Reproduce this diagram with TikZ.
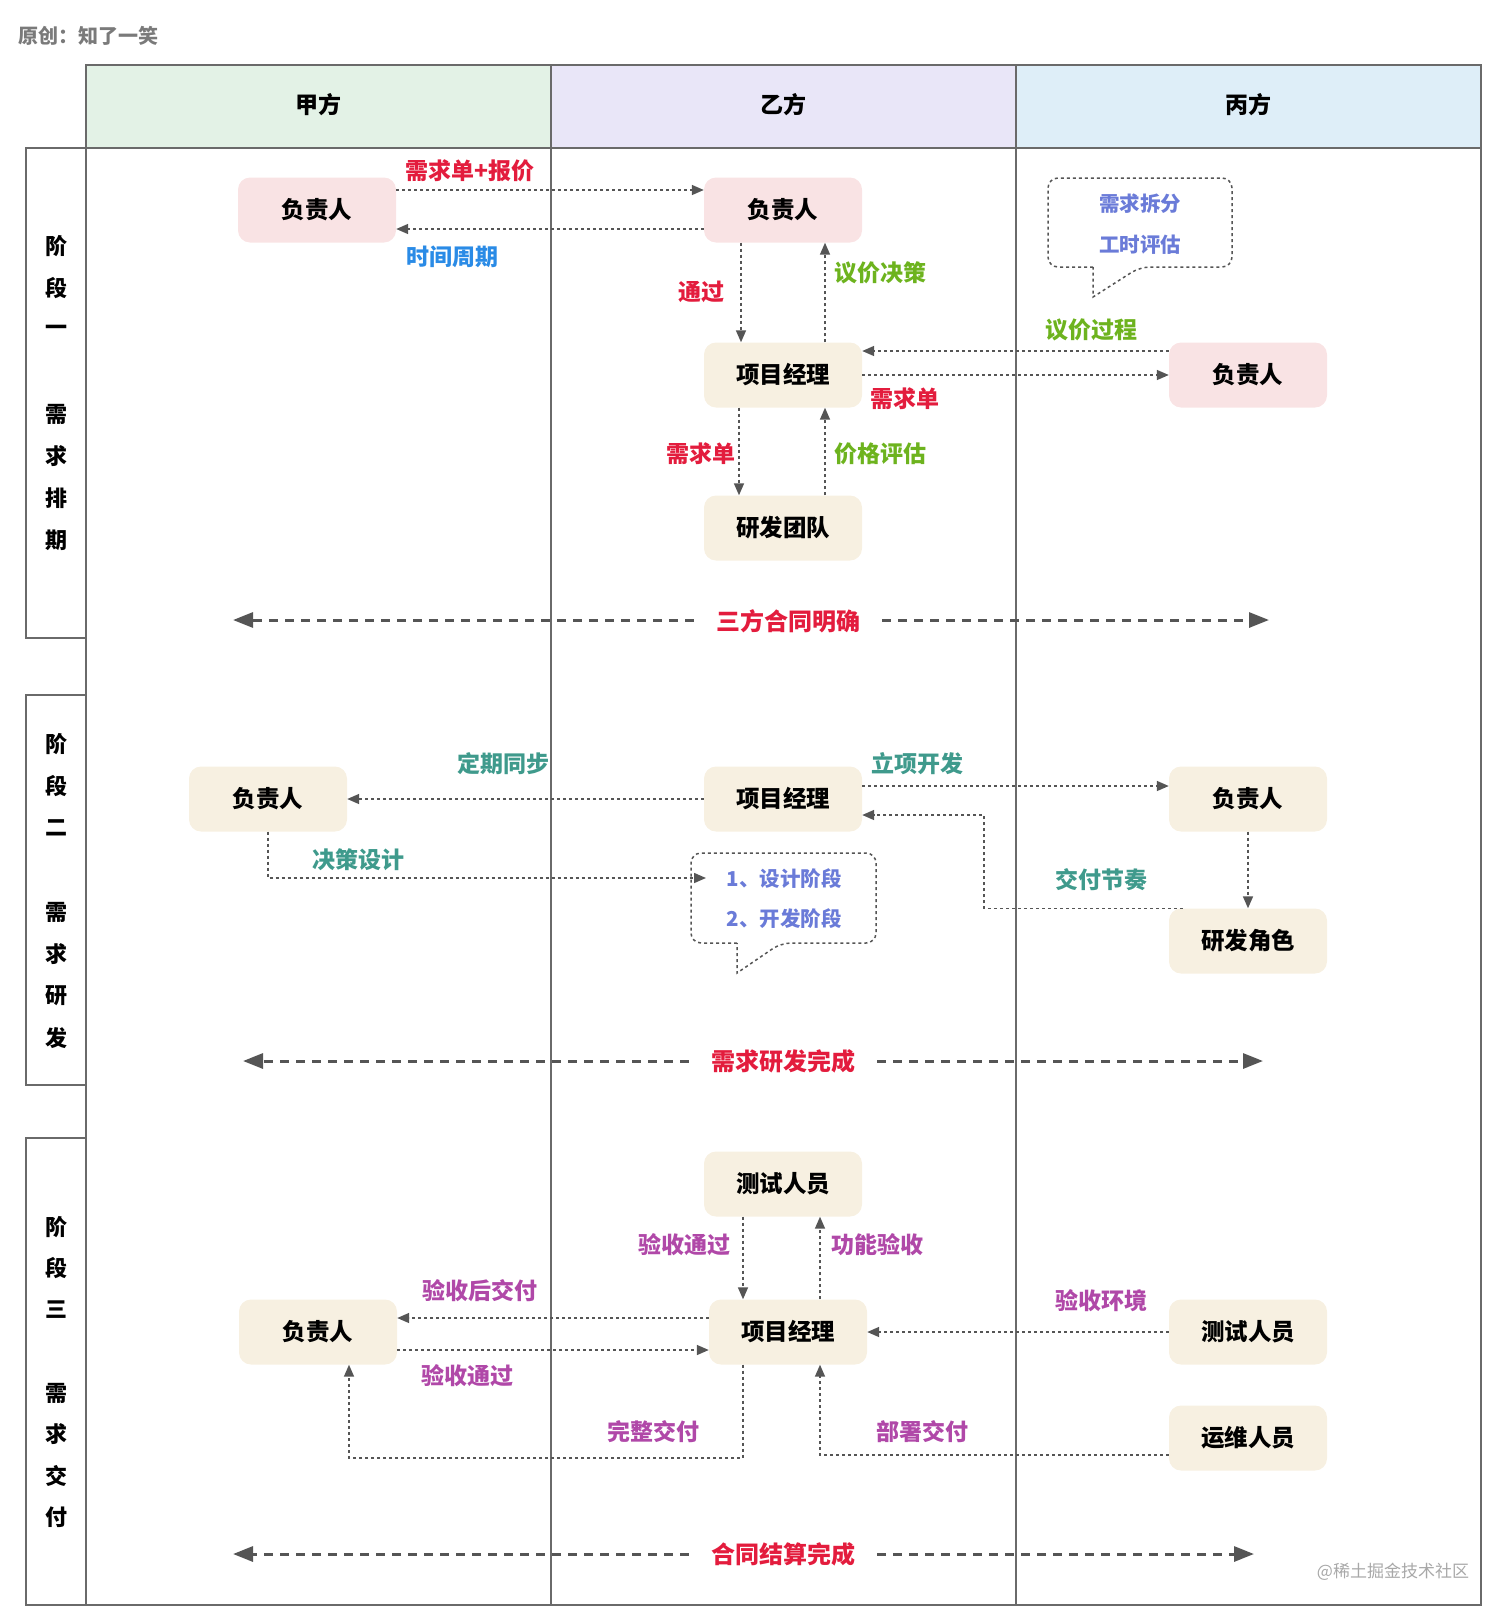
\documentclass[tikz,border=0pt]{standalone}
\usepackage{fontspec}
\setmainfont{Noto Sans CJK SC}
\usetikzlibrary{arrows.meta}

\definecolor{framegray}{HTML}{6A6A6A}
\definecolor{arrowgray}{HTML}{555555}
\definecolor{headgreen}{HTML}{E3F2E6}
\definecolor{headpurple}{HTML}{E9E6F8}
\definecolor{headblue}{HTML}{DEEEF8}
\definecolor{leadpink}{HTML}{F9E3E4}
\definecolor{staffcream}{HTML}{F7F0E1}
\definecolor{tagred}{HTML}{E31C3D}
\definecolor{tagblue}{HTML}{2A8BE6}
\definecolor{taggreen}{HTML}{6DB31E}
\definecolor{tagteal}{HTML}{3F9A8C}
\definecolor{tagpink}{HTML}{B048A8}
\definecolor{noteblue}{HTML}{6A7BD8}
\definecolor{titlegray}{HTML}{7A7A7A}
\definecolor{markgray}{HTML}{A8A8A8}

\begin{document}
\begin{tikzpicture}[
    x=1pt, y=-1pt,
    frame/.style={draw=framegray, line width=1.5pt},
    actor/.style={rounded corners=12pt, minimum width=158pt, minimum height=65pt, inner sep=0pt, font={\fontsize{23.5}{28}\selectfont\bfseries}},
    lead/.style={actor, fill=leadpink},
    staff/.style={actor, fill=staffcream},
    flow/.style={-{Triangle[length=12pt, width=10pt]}, draw=arrowgray, line width=1.6pt, dash pattern=on 3pt off 3pt},
    tag/.style={font={\fontsize{23}{27}\selectfont\bfseries}, inner sep=0pt},
    milestone/.style={-{Triangle[length=20pt, width=15pt]}, draw=arrowgray, line width=3pt, dash pattern=on 9pt off 7pt},
    mslabel/.style={font={\fontsize{24}{28}\selectfont\bfseries}, text=tagred, inner xsep=22pt},
    note/.style={draw=arrowgray, line width=1.5pt, dash pattern=on 3pt off 3pt},
    notetext/.style={font={\fontsize{20.5}{24}\selectfont\bfseries}, text=noteblue},
    lanehead/.style={font={\fontsize{23}{27}\selectfont\bfseries}},
    stagechar/.style={font={\fontsize{22}{26}\selectfont\bfseries}}
]
    \useasboundingbox (0,0) rectangle (1512,1620);

    % lanes
    \fill[headgreen] (86,65) rectangle (551,148);
    \fill[headpurple] (551,65) rectangle (1016,148);
    \fill[headblue] (1016,65) rectangle (1481,148);
    \draw[frame] (86,65) rectangle (1481,1605);
    \draw[frame] (86,148) -- (1481,148);
    \draw[frame] (551,65) -- (551,1605);
    \draw[frame] (1016,65) -- (1016,1605);
    \draw[frame] (26,148) rectangle (86,638);
    \draw[frame] (26,695) rectangle (86,1085);
    \draw[frame] (26,1138) rectangle (86,1605);

    \node[font={\fontsize{20}{24}\selectfont\bfseries}, text=titlegray, anchor=west, inner sep=0pt] (title) at (18,36) {原创：知了一笑};
    \node[lanehead] (h1) at (318,105) {甲方};
    \node[lanehead] (h2) at (783,105) {乙方};
    \node[lanehead] (h3) at (1248,105) {丙方};

    \foreach \c [count=\i] in {阶,段,一,,需,求,排,期}
        \node[stagechar] (sa\i) at (56, 246+42*\i-42) {\c};
    \foreach \c [count=\i] in {阶,段,二,,需,求,研,发}
        \node[stagechar] (sb\i) at (56, 744+42*\i-42) {\c};
    \foreach \c [count=\i] in {阶,段,三,,需,求,交,付}
        \node[stagechar] (sc\i) at (56, 1227+41.5*\i-41.5) {\c};

    % stage one
    \node[lead] (a1) at (317,210) {负责人};
    \node[lead] (b1) at (783,210) {负责人};
    \node[staff] (pm1) at (783,375) {项目经理};
    \node[staff] (rd1) at (783,528) {研发团队};
    \node[lead] (c1) at (1248,375) {负责人};

    \draw[note] (1093,267) [rounded corners=10pt] -- (1048,267) -- (1048,178) -- (1232,178) -- (1232,267) -- (1140,267) [sharp corners] -- (1093,297) -- cycle;
    \node[notetext] (n1a) at (1140,204) {需求拆分};
    \node[notetext] (n1b) at (1140,245) {工时评估};

    \draw[flow] ([yshift=20pt]a1.east) -- ([yshift=20pt]b1.west);
    \draw[flow] ([yshift=-19pt]b1.west) -- ([yshift=-19pt]a1.east);
    \draw[flow] ([xshift=-42pt]b1.south) -- ([xshift=-42pt]pm1.north);
    \draw[flow] ([xshift=42pt]pm1.north) -- ([xshift=42pt]b1.south);
    \draw[flow] ([yshift=24pt]c1.west) -- ([yshift=24pt]pm1.east);
    \draw[flow] (pm1.east) -- (c1.west);
    \draw[flow] ([xshift=-44pt]pm1.south) -- ([xshift=-44pt]rd1.north);
    \draw[flow] ([xshift=42pt]rd1.north) -- ([xshift=42pt]pm1.south);

    \node[tag, text=tagred] (l1) at (470,171) {需求单+报价};
    \node[tag, text=tagblue] (l2) at (452,257) {时间周期};
    \node[tag, text=tagred] (l3) at (701,292) {通过};
    \node[tag, text=taggreen] (l4) at (880,273) {议价决策};
    \node[tag, text=taggreen] (l5) at (1091,330) {议价过程};
    \node[tag, text=tagred] (l6) at (905,399) {需求单};
    \node[tag, text=tagred] (l7) at (701,454) {需求单};
    \node[tag, text=taggreen] (l8) at (880,454) {价格评估};

    \node[mslabel] (ms1) at (788,621) {三方合同明确};
    \coordinate (ms1l) at (233,620);
    \coordinate (ms1r) at (1269,620);
    \draw[milestone] (ms1.west |- ms1l) -- (ms1l);
    \draw[milestone] (ms1.east |- ms1r) -- (ms1r);

    % stage two
    \node[staff] (a2) at (268,799) {负责人};
    \node[staff] (pm2) at (783,799) {项目经理};
    \node[staff] (c2) at (1248,799) {负责人};
    \node[staff] (crd) at (1248,941) {研发角色};

    \draw[note] (737,943) [rounded corners=10pt] -- (691,943) -- (691,853) -- (876,853) -- (876,943) -- (781,943) [sharp corners] -- (737,973) -- cycle;
    \node[notetext] (n2a) at (784,879) {1、设计阶段};
    \node[notetext] (n2b) at (784,919) {2、开发阶段};
    \coordinate (cb2in) at (706,878);

    \draw[flow] (pm2.west) -- (a2.east);
    \draw[flow] ([yshift=13pt]pm2.east) -- ([yshift=13pt]c2.west);
    \draw[flow] (a2.south) |- (cb2in);
    \draw[flow] (c2.south) -- (crd.north);
    \draw[flow] ([xshift=14pt]crd.north west) -- ++(-199,0) |- ([yshift=-16pt]pm2.east);

    \node[tag, text=tagteal] (l9) at (503,764) {定期同步};
    \node[tag, text=tagteal] (l10) at (917,764) {立项开发};
    \node[tag, text=tagteal] (l11) at (358,860) {决策设计};
    \node[tag, text=tagteal] (l12) at (1101,880) {交付节奏};

    \node[mslabel] (ms2) at (783,1061) {需求研发完成};
    \coordinate (ms2l) at (243,1061);
    \coordinate (ms2r) at (1263,1061);
    \draw[milestone] (ms2.west |- ms2l) -- (ms2l);
    \draw[milestone] (ms2.east |- ms2r) -- (ms2r);

    % stage three
    \node[staff] (qa) at (783,1184) {测试人员};
    \node[staff] (pm3) at (788,1332) {项目经理};
    \node[staff] (a3) at (318,1332) {负责人};
    \node[staff] (cqa) at (1248,1332) {测试人员};
    \node[staff] (cops) at (1248,1438) {运维人员};

    \draw[flow] ([xshift=-40pt]qa.south) -- ([xshift=-40pt]qa.south |- pm3.north);
    \draw[flow] ([xshift=32pt]pm3.north) -- ([xshift=32pt]pm3.north |- qa.south);
    \draw[flow] ([yshift=14pt]pm3.west) -- ([yshift=14pt]a3.east);
    \draw[flow] ([yshift=-18pt]a3.east) -- ([yshift=-18pt]pm3.west);
    \draw[flow] (cqa.west) -- (pm3.east);
    \draw[flow] ([xshift=-45pt]pm3.south) -- ++(0,93) -| ([xshift=31pt]a3.south);
    \draw[flow] ([yshift=-17pt]cops.west) -| ([xshift=32pt]pm3.south);

    \node[tag, text=tagpink] (l13) at (684,1245) {验收通过};
    \node[tag, text=tagpink] (l14) at (877,1245) {功能验收};
    \node[tag, text=tagpink] (l15) at (480,1291) {验收后交付};
    \node[tag, text=tagpink] (l16) at (467,1376) {验收通过};
    \node[tag, text=tagpink] (l17) at (1101,1301) {验收环境};
    \node[tag, text=tagpink] (l18) at (653,1432) {完整交付};
    \node[tag, text=tagpink] (l19) at (922,1432) {部署交付};

    \node[mslabel] (ms3) at (783,1554) {合同结算完成};
    \coordinate (ms3l) at (233,1554);
    \coordinate (ms3r) at (1254,1554);
    \draw[milestone] (ms3.west |- ms3l) -- (ms3l);
    \draw[milestone] (ms3.east |- ms3r) -- (ms3r);

    \node[font={\fontsize{17}{20}\selectfont}, text=markgray] (mark) at (1393,1572) {@稀土掘金技术社区};
\end{tikzpicture}
\end{document}
